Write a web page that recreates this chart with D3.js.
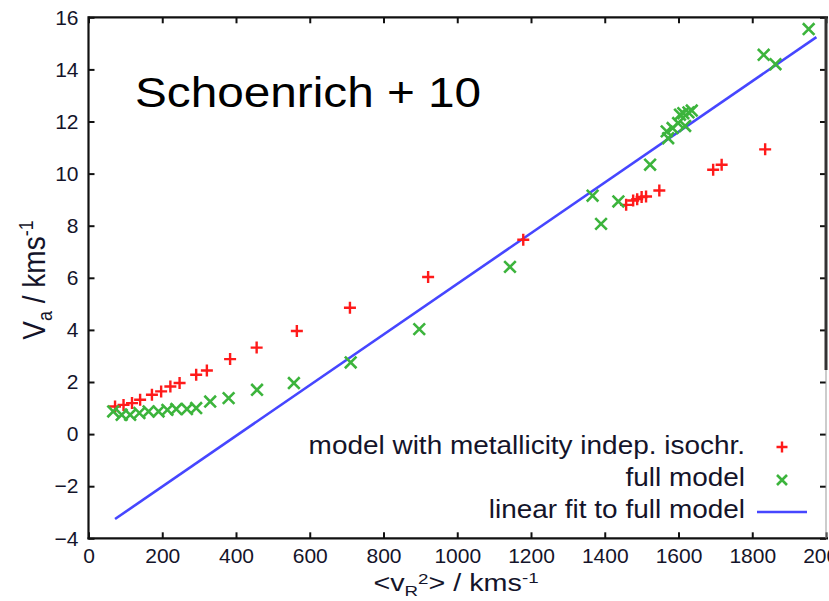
<!DOCTYPE html>
<html>
<head>
<meta charset="utf-8">
<script src="https://cdn.jsdelivr.net/npm/d3@7/dist/d3.min.js"></script>
<style>
  html, body { margin: 0; padding: 0; background: #fff; }
  svg { display: block; }
  text { font-family: "Liberation Sans", Arial, sans-serif; }
</style>
</head>
<body>
<svg id="chart" width="829" height="601"></svg>
<script>
// ---- data ----
const redX = [72, 95, 118, 140, 172, 197, 222, 247, 292, 321, 384, 456, 565, 709, 921, 1179, 1458, 1477, 1488, 1500, 1512, 1548, 1694, 1717, 1835];
const redY = [1.06, 1.12, 1.19, 1.32, 1.51, 1.64, 1.83, 1.96, 2.28, 2.44, 2.88, 3.32, 3.96, 4.85, 6.03, 7.46, 8.80, 8.97, 9.02, 9.10, 9.12, 9.35, 10.15, 10.34, 10.93];

const greenX = [67, 90, 113, 138, 163, 190, 214, 238, 267, 292, 330, 380, 457, 557, 711, 897, 1143, 1367, 1390, 1437, 1523, 1572, 1568, 1584, 1599, 1604, 1613, 1618, 1627, 1636, 1831, 1863, 1953];
const greenY = [0.87, 0.74, 0.74, 0.81, 0.87, 0.87, 0.93, 0.96, 0.96, 1.00, 1.25, 1.38, 1.70, 1.96, 2.75, 4.03, 6.42, 9.15, 8.07, 8.93, 10.34, 11.36, 11.62, 11.75, 11.94, 12.26, 12.32, 11.83, 12.35, 12.42, 14.56, 14.20, 15.55];

const fitX = [72, 1974];
const fitY = [-3.26, 15.24];

const xTicks = [0, 200, 400, 600, 800, 1000, 1200, 1400, 1600, 1800, 2000];
const yTicks = [-4, -2, 0, 2, 4, 6, 8, 10, 12, 14, 16];

const legendLabels = ["model with metallicity indep. isochr.", "full model", "linear fit to full model"];
const titleText = "Schoenrich + 10";

// ---- drawing ----
const svg = d3.select("#chart");
const L = 88.5, R = 826, T = 17.3, B = 538.3;
const x = d3.scaleLinear().domain([0, 2000]).range([L, R]);
const y = d3.scaleLinear().domain([-4, 16]).range([B, T]);

const red = "#ff1a1a", green = "#3cb43c", blue = "#4646ff";
const fmt = d3.format("d");

// axes
const gx = svg.append("g").attr("transform", `translate(0,${B})`)
  .call(d3.axisBottom(x).tickValues(xTicks).tickFormat(fmt).tickSizeInner(-6).tickSizeOuter(0).tickPadding(10));
const gy = svg.append("g").attr("transform", `translate(${L},0)`)
  .call(d3.axisLeft(y).tickValues(yTicks).tickFormat(fmt).tickSizeInner(-6).tickSizeOuter(0).tickPadding(10));
const gxt = svg.append("g").attr("transform", `translate(0,${T})`)
  .call(d3.axisTop(x).tickValues(xTicks).tickSizeInner(-6).tickSizeOuter(0).tickFormat(""));
const gyr = svg.append("g").attr("transform", `translate(${R},0)`)
  .call(d3.axisRight(y).tickValues(yTicks).tickSizeInner(-6).tickSizeOuter(0).tickFormat(""));

[gx, gy, gxt, gyr].forEach(g => {
  g.select(".domain").remove();
  g.selectAll(".tick line").attr("stroke", "#111").attr("stroke-width", 2);
  g.selectAll(".tick text").attr("font-size", 21).attr("fill", "#14142a")
    .attr("font-family", "'Liberation Sans', Arial, sans-serif");
});

// frame
const frame = svg.append("g").attr("stroke", "#111").attr("stroke-width", 2.2).attr("fill", "none");
frame.append("line").attr("x1", L).attr("x2", L).attr("y1", T - 1).attr("y2", B + 1);
frame.append("line").attr("x1", L).attr("x2", R + 2).attr("y1", T).attr("y2", T);
frame.append("line").attr("x1", L - 1).attr("x2", R + 2).attr("y1", B).attr("y2", B);
frame.append("line").attr("x1", R).attr("x2", R).attr("y1", T).attr("y2", 370).attr("stroke-width", 3).attr("stroke", "#333");
frame.append("line").attr("x1", R).attr("x2", R).attr("y1", 370).attr("y2", B).attr("stroke-width", 1).attr("stroke", "#999");

// fit line
svg.append("path")
  .datum(fitX.map((v, i) => [v, fitY[i]]))
  .attr("d", d3.line().x(d => x(d[0])).y(d => y(d[1])))
  .attr("stroke", blue).attr("stroke-width", 2.6).attr("fill", "none");

// markers
function plus(g, cx, cy, s) {
  g.append("path").attr("d", `M${cx - s},${cy}H${cx + s}M${cx},${cy - s}V${cy + s}`)
    .attr("stroke", red).attr("stroke-width", 2.4).attr("fill", "none");
}
function cross(g, cx, cy, s) {
  g.append("path").attr("d", `M${cx - s},${cy - s}L${cx + s},${cy + s}M${cx - s},${cy + s}L${cx + s},${cy - s}`)
    .attr("stroke", green).attr("stroke-width", 2.6).attr("fill", "none");
}

const gRed = svg.append("g");
redX.forEach((v, i) => plus(gRed, x(v), y(redY[i]), 6));
const gGreen = svg.append("g");
greenX.forEach((v, i) => cross(gGreen, x(v), y(greenY[i]), 5.8));

// title
svg.append("text").attr("transform", "translate(135,106.7) scale(1.11,1)")
  .attr("font-size", 43).attr("fill", "#000").text(titleText);

// legend
const legRows = [454, 486, 518];
const lg = svg.append("g");
legendLabels.forEach((t, i) => {
  lg.append("text").attr("transform", `translate(745,${legRows[i]}) scale(1.075,1)`)
    .attr("text-anchor", "end").attr("font-size", 26).attr("fill", "#14142a").text(t);
});
plus(lg, 782, 447, 5.5);
cross(lg, 782, 480, 5);
lg.append("line").attr("x1", 757).attr("x2", 807).attr("y1", 512).attr("y2", 512)
  .attr("stroke", blue).attr("stroke-width", 2.4);

// x title
const xt = svg.append("text").attr("transform", "translate(456,591) scale(1.25,1)")
  .attr("text-anchor", "middle").attr("font-size", 23).attr("fill", "#14142a");
xt.append("tspan").text("<v");
xt.append("tspan").attr("font-size", 15).attr("dy", 5).text("R");
xt.append("tspan").attr("font-size", 15).attr("dy", -12).text("2");
xt.append("tspan").attr("dy", 7).text("> / kms");
xt.append("tspan").attr("font-size", 15).attr("dy", -8).text("-1");

// y title
const yt = svg.append("text").attr("transform", "translate(45,280) scale(1.12,1) rotate(-90)")
  .attr("text-anchor", "middle").attr("font-size", 28).attr("fill", "#14142a");
yt.append("tspan").text("V");
yt.append("tspan").attr("font-size", 18).attr("dy", 6).text("a");
yt.append("tspan").attr("dy", -6).text(" / kms");
yt.append("tspan").attr("font-size", 18).attr("dy", -11).text("-1");
</script>
</body>
</html>
